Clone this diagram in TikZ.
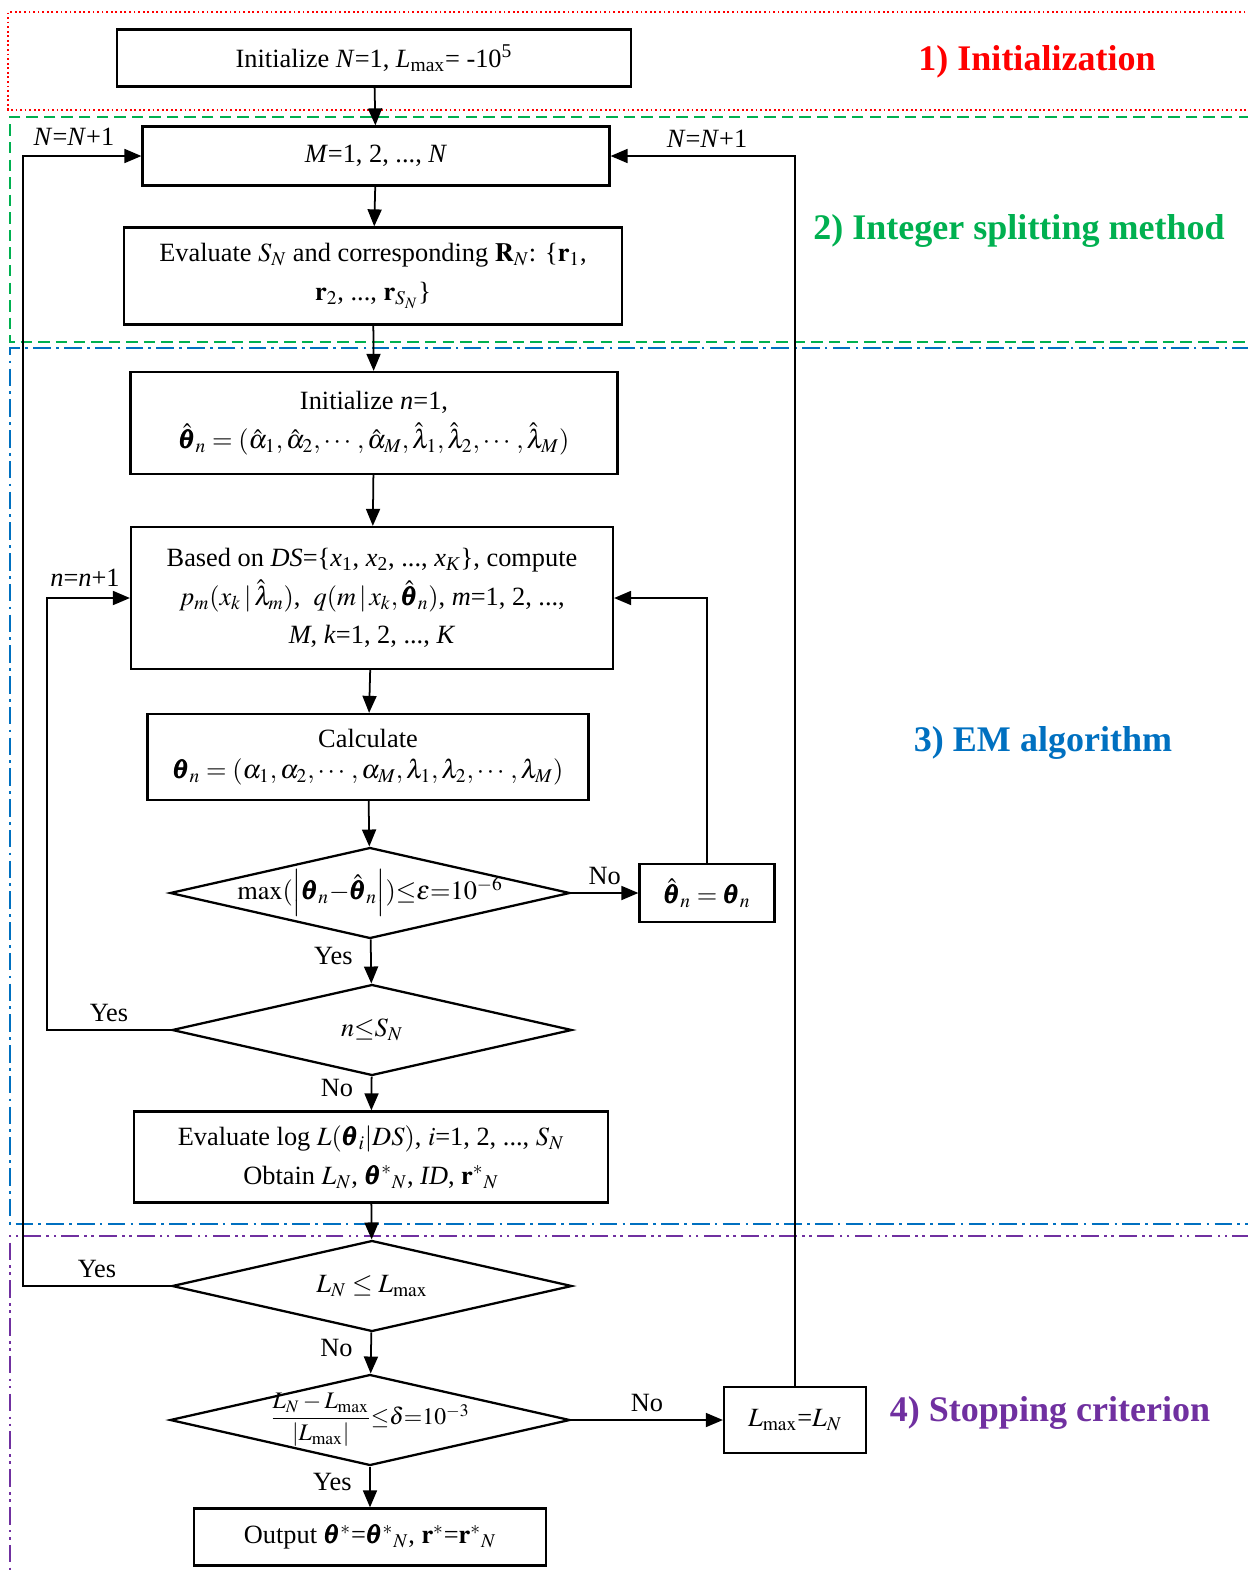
\documentclass[tikz,border=0pt]{standalone}
\usepackage{amsmath}
\usepackage{mathptmx}
\usepackage{fontspec}
\setmainfont{Liberation Serif}
\usepackage{xcolor}
\definecolor{initred}{HTML}{FF0000}
\definecolor{splitgreen}{HTML}{00B050}
\definecolor{emblue}{HTML}{0070C0}
\definecolor{stoppurple}{HTML}{7030A0}
\usepackage{tikz}
\usetikzlibrary{shapes.geometric,arrows.meta,positioning}
\newcommand{\bth}{\pmb{\theta}}
\newcommand{\hbth}{\hat{\pmb{\theta}}}

\begin{document}
\begin{tikzpicture}[x=0.02cm, y=-0.02cm,
      font=\fontsize{15}{22}\selectfont,
      blk/.style={draw, line width=1.3pt, align=center, inner sep=2pt},
      dec/.style={draw, diamond, line width=1.3pt, inner sep=0pt, minimum width=8cm, minimum height=1.82cm},
      arr/.style={line width=1pt, -{Triangle[length=3.4mm,width=2.8mm]}},
      lbl/.style={inner sep=4pt},
      lbll/.style={lbl, left, xshift=-6pt, yshift=3pt},
      sec/.style={font=\fontsize{20.5}{24}\selectfont\bfseries}
    ]
    \useasboundingbox (0,0) rectangle (1248,1573);
    \draw[initred, line width=1pt, dash pattern=on 1pt off 1.6pt] (1250,12) -- (8,12) -- (8,110) -- (1250,110);
    \draw[splitgreen, line width=1pt, dash pattern=on 6.5pt off 3.5pt] (1250,117) -- (10,117) -- (10,342) -- (1250,342);
    \draw[emblue, line width=1pt, dash pattern=on 10pt off 3pt on 1.5pt off 3pt] (1250,348) -- (10,348) -- (10,1224) -- (1250,1224);
    \draw[stoppurple, line width=1pt, dash pattern=on 10pt off 3pt on 1.5pt off 2.5pt on 1.5pt off 3pt] (1250,1236) -- (10,1236) -- (10,1580);
    \node[sec, text=initred] (sinit) at (1037,62) {1) Initialization};
    \node[sec, text=splitgreen] (ssplit) at (1019,231) {2) Integer splitting method};
    \node[sec, text=emblue] (sem) at (1043,743) {3) EM algorithm};
    \node[sec, text=stoppurple] (sstop) at (1050,1413) {4) Stopping criterion};
    \node[blk, minimum width=10.28cm, minimum height=1.14cm] (init) at (374,58) {Initialize \textit{N}=1, \textit{L}\textsubscript{max}= -10\textsuperscript{5}};
    \node[blk, minimum width=9.34cm, minimum height=1.18cm] (mset) at (376,156) {\textit{M}=1, 2, ..., \textit{N}};
    \node[blk, minimum width=9.96cm, minimum height=1.94cm] (evals) at (373,276) {Evaluate $S_N$ and corresponding $\mathbf{R}_N$: \{$\mathbf{r}_1$,\\ $\mathbf{r}_2$, ..., $\mathbf{r}_{S_N}$\}};
    \node[blk, minimum width=9.74cm, minimum height=2.04cm] (initn) at (374,423) {Initialize \textit{n}=1,\\ $\hbth_n=(\hat\alpha_1,\hat\alpha_2,\cdots,\hat\alpha_M,\hat\lambda_1,\hat\lambda_2,\cdots,\hat\lambda_M)$};
    \node[blk, minimum width=9.64cm, minimum height=2.84cm] (estep) at (372,598) {Based on \textit{DS}=\{\textit{x}\textsubscript{1}, \textit{x}\textsubscript{2}, ..., \textit{x}\textsubscript{\textit{K}}\}, compute\\ $p_m(x_k\,|\,\hat\lambda_m)$, \ $q(m\,|\,x_k,\hbth_n)$, \textit{m}=1, 2, ...,\\ \textit{M}, \textit{k}=1, 2, ..., \textit{K}};
    \node[blk, minimum width=8.82cm, minimum height=1.72cm] (mstep) at (368,757) {Calculate\\[-4pt] $\bth_n=(\alpha_1,\alpha_2,\cdots,\alpha_M,\lambda_1,\lambda_2,\cdots,\lambda_M)$};
    \node[dec] (conv) at (370,893) {};
    \node (convtxt) at (conv) {$\mathrm{max}(\left|\bth_n{-}\hbth_n\right|){\le}\varepsilon{=}10^{-6}$};
    \node[blk, minimum width=2.7cm, minimum height=1.16cm] (upd) at (707,893) {$\hbth_n=\bth_n$};
    \node[dec] (more) at (372,1030) {};
    \node (moretxt) at (more) {$n{\le}S_N$};
    \node[blk, minimum width=9.48cm, minimum height=1.82cm] (loglik) at (371,1157) {Evaluate log $L(\bth_i|DS)$, $i$=1, 2, ..., $S_N$\\ Obtain $L_N$, $\bth^*{}_N$, \textit{ID}, $\mathbf{r}^*{}_N$};
    \node[dec] (better) at (372,1286) {};
    \node (bettertxt) at (better) {$L_N\le L_{\max}$};
    \node[dec] (stop) at (370,1420) {};
    \node[font=\fontsize{13.5}{16}\selectfont] (stoptxt) at (stop) {$\dfrac{L_N-L_{\max}}{|L_{\max}|}{\le}\delta{=}10^{-3}$};
    \node[blk, minimum width=2.84cm, minimum height=1.32cm] (setmax) at (795,1420) {$L_{\max}$=$L_N$};
    \node[blk, minimum width=7.04cm, minimum height=1.14cm] (out) at (370,1537) {Output $\bth^*$=$\bth^*{}_N$, $\mathbf{r}^*$=$\mathbf{r}^*{}_N$};
    \coordinate (lpn) at (47,1030);
    \coordinate (lpN) at (23,1286);
    \node (ninc) at (85,578) {\textit{n}=\textit{n}+1};
    \node (Nincl) at (74,137) {\textit{N}=\textit{N}+1};
    \node (Nincr) at (707,139) {\textit{N}=\textit{N}+1};
    \draw[arr] (init) -- (mset);
    \draw[arr] (mset) -- (evals);
    \draw[arr] (evals) -- (initn);
    \draw[arr] (initn) -- (estep);
    \draw[arr] (estep) -- (mstep);
    \draw[arr] (mstep) -- (conv);
    \draw[arr] (conv) -- (upd) node[lbl, above, midway] (nconv) {No};
    \draw[arr] (upd.north) |- (estep.east);
    \draw[arr] (conv) -- (more) node[lbll, midway] (yconv) {Yes};
    \draw[arr] (more.west) -- (lpn) node[lbl, above, midway] (ymore) {Yes} |- (estep.west);
    \draw[arr] (more) -- (loglik) node[lbll, midway] (nmore) {No};
    \draw[arr] (loglik) -- (better);
    \draw[arr] (better.west) -- (lpN) node[lbl, above, midway] (ybetter) {Yes} |- (mset.west);
    \draw[arr] (better) -- (stop) node[lbll, midway] (nbetter) {No};
    \draw[arr] (stop) -- (setmax) node[lbl, above, midway] (nstop) {No};
    \draw[arr] (setmax.north) |- (mset.east);
    \draw[arr] (stop) -- (out) node[lbll, midway] (ystop) {Yes};
  \end{tikzpicture}
\end{document}
